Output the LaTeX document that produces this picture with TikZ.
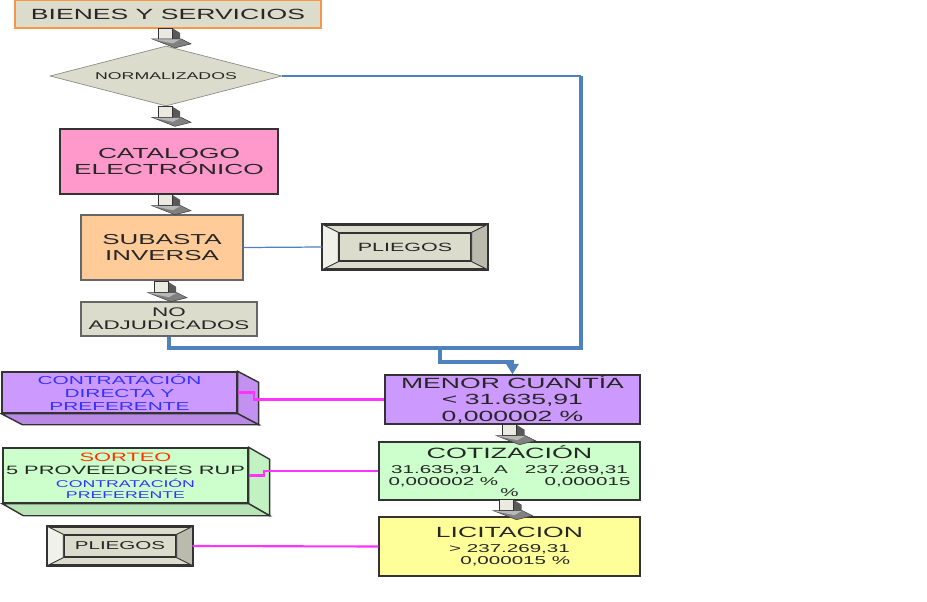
\documentclass[tikz,border=0pt]{standalone}
\usepackage{fontspec}
\setmainfont{Liberation Sans}[FakeStretch=1.8]
\usepackage{xcolor}
\usepackage{tikz}
\usetikzlibrary{shapes.geometric}
\usetikzlibrary{arrows.meta}
\usetikzlibrary{calc}

\definecolor{gris}{HTML}{DCDCCC}
\definecolor{naranja}{HTML}{F79646}
\definecolor{rosa}{HTML}{FF99CC}
\definecolor{salmon}{HTML}{FFCC99}
\definecolor{lila}{HTML}{CC99FF}
\definecolor{verde}{HTML}{CCFFCC}
\definecolor{amarillo}{HTML}{FFFF99}
\definecolor{azul}{HTML}{4F81BD}
\definecolor{fucsia}{HTML}{FF33FF}
\definecolor{azultexto}{HTML}{3333FF}
\definecolor{rojotexto}{HTML}{FF3300}

\tikzset{
	flecha/.pic={
		\fill[black!65] (14,0) -- (22,5) -- (22,11) -- (14,11) -- cycle;
		\filldraw[fill=gris!60!white, draw=black!80, line width=0.4pt] (0,0) rectangle (14,11);
		\filldraw[fill=black!50, draw=black!75, line width=0.3pt] (-6,11) -- (23,11) -- (33,16) -- (17,20) -- cycle;
		\fill[black!28] (-5,11.5) -- (22,11.5) -- (15,15.5) -- cycle;
	}
}

\begin{document}
\begin{tikzpicture}[x=0.02cm, y=-0.02cm,
	caja/.style={draw=black!80, line width=0.8pt, inner sep=0pt, align=center, text=black!85},
	azulgrueso/.style={draw=azul, line width=2pt},
	fucsialinea/.style={draw=fucsia, line width=1.2pt}]

	\useasboundingbox (0,0) rectangle (927,602);

	% columna principal
	\node [caja, draw=naranja, line width=1pt, fill=gris, minimum width=6.12cm, minimum height=0.56cm, font=\fontsize{8.4}{9}\selectfont] (bienes) at (168,14) {BIENES Y SERVICIOS};

	\node [diamond, aspect=3.9, draw=black!45, fill=gris, inner sep=0pt, minimum width=4.64cm, minimum height=1.2cm, text=black!85, font=\fontsize{5.6}{6}\selectfont] (normal) at (166,76) {NORMALIZADOS};

	\node [caja, fill=rosa, minimum width=4.36cm, minimum height=1.3cm, font=\fontsize{8.3}{9.6}\selectfont] (catalogo) at (169,161.5) {CATALOGO\\ELECTRÓNICO};

	\node [caja, fill=salmon, draw=black!60, minimum width=3.24cm, minimum height=1.3cm, font=\fontsize{8.2}{9}\selectfont] (subasta) at (162,247.5) {SUBASTA\\INVERSA};

	\node [caja, fill=gris, draw=black!60, minimum width=3.52cm, minimum height=0.68cm, font=\fontsize{7.1}{7.4}\selectfont] (noadj) at (169,319) {NO\\ADJUDICADOS};

	\pic at ($(bienes.south)+(-10,-1)$) {flecha};
	\pic at ($(normal.south)+(-8,0)$) {flecha};
	\pic at ($(catalogo.south)+(-11,0)$) {flecha};
	\pic at ($(subasta.south)+(-8,1)$) {flecha};

	% pliegos de la subasta
	\node [caja, fill=gris, minimum width=3.28cm, minimum height=0.88cm] (pliegos) at (405,247) {};
	\node [caja, fill=gris, minimum width=2.64cm, minimum height=0.56cm, font=\fontsize{6.8}{7}\selectfont] (pliegosin) at (pliegos.center) {PLIEGOS};
	\filldraw [fill=gris!40!white, draw=black!80, line width=0.5pt] (pliegos.north west) -- (pliegosin.north west) -- (pliegosin.south west) -- (pliegos.south west) -- cycle;
	\filldraw [fill=gris!85!black, draw=black!80, line width=0.5pt] (pliegos.north east) -- (pliegosin.north east) -- (pliegosin.south east) -- (pliegos.south east) -- cycle;
	\draw [black!80, line width=1pt] (pliegos.north west) rectangle (pliegos.south east);

	\draw [azul, line width=0.7pt] (subasta.east) -- (pliegos.west);

	% montos
	\node [caja, fill=lila, minimum width=5.1cm, minimum height=0.98cm, font=\fontsize{8.4}{9.6}\selectfont] (menor) at (512.5,399.5) {MENOR CUANTÍA\\< 31.635,91\\0,000002 \%};

	\node [caja, fill=verde, minimum width=5.22cm, minimum height=1.16cm, font=\fontsize{6.5}{6.8}\selectfont] (cotiz) at (509.5,471) {{\fontsize{8.5}{9}\selectfont COTIZACIÓN}\\[2pt]31.635,91\ \ A\ \ \ 237.269,31\\\makebox[4.84cm]{0,000002 \%\hfill 0,000015}\\[-0.6pt]\%};

	\node [caja, fill=amarillo, minimum width=5.22cm, minimum height=1.18cm, font=\fontsize{6.5}{6.8}\selectfont] (licit) at (509.5,546.5) {{\fontsize{8.4}{9}\selectfont LICITACION}\\[1.4pt]> 237.269,31\\\ \ 0,000015 \%};

	\pic at ($(menor.south)+(-10,0)$) {flecha};
	\pic at ($(cotiz.south)+(-10,-1)$) {flecha};

	% conectores azules
	\coordinate (union) at (581,348);
	\coordinate (bajada) at (440,348);
	\draw [azul, line width=0.9pt] (normal.east) -- (normal.east -| union);
	\draw [azulgrueso] (normal.east -| union) -- (union) -- (noadj.south |- union) -- (noadj.south);
	\draw [azulgrueso, -{Triangle[width=7pt,length=6pt]}] (bajada) -- ++(0,14) -| (menor.north);

	% cajas de la izquierda
	\node [caja, fill=lila, minimum width=4.7cm, minimum height=0.82cm, text=azultexto, font=\fontsize{6.6}{7.4}\selectfont] (contrat) at (119.5,392.5) {CONTRATACIÓN\\DIRECTA Y\\PREFERENTE};
	\filldraw [fill=lila!95!black, draw=black!80, line width=0.8pt] (contrat.north east) -- ($(contrat.north east)+(21,11)$) -- ($(contrat.south east)+(21,11)$) -- (contrat.south east) -- cycle;
	\filldraw [fill=lila!90!black, draw=black!80, line width=0.8pt] (contrat.south west) -- (contrat.south east) -- ($(contrat.south east)+(21,11)$) -- ($(contrat.south west)+(21,11)$) -- cycle;

	\node [caja, fill=verde, minimum width=4.9cm, minimum height=1.1cm, font=\fontsize{6.9}{7.4}\selectfont] (sorteo) at (125.5,475.5) {\textcolor{rojotexto}{SORTEO}\\5 PROVEEDORES RUP\\{\fontsize{5.6}{6}\selectfont\color{azultexto}CONTRATACIÓN}\\[-1.2pt]{\fontsize{5.6}{6}\selectfont\color{azultexto}PREFERENTE}};
	\filldraw [fill=verde!95!black, draw=black!80, line width=0.8pt] (sorteo.north east) -- ($(sorteo.north east)+(21,12)$) -- ($(sorteo.south east)+(21,12)$) -- (sorteo.south east) -- cycle;
	\filldraw [fill=verde!90!black, draw=black!80, line width=0.8pt] (sorteo.south west) -- (sorteo.south east) -- ($(sorteo.south east)+(21,12)$) -- ($(sorteo.south west)+(21,12)$) -- cycle;

	\node [caja, fill=gris, minimum width=2.88cm, minimum height=0.76cm] (pliegosb) at (120,546) {};
	\node [caja, fill=gris, minimum width=2.24cm, minimum height=0.44cm, font=\fontsize{6.5}{7}\selectfont] (pliegosbin) at (pliegosb.center) {PLIEGOS};
	\filldraw [fill=gris!40!white, draw=black!80, line width=0.5pt] (pliegosb.north west) -- (pliegosbin.north west) -- (pliegosbin.south west) -- (pliegosb.south west) -- cycle;
	\filldraw [fill=gris!85!black, draw=black!80, line width=0.5pt] (pliegosb.north east) -- (pliegosbin.north east) -- (pliegosbin.south east) -- (pliegosb.south east) -- cycle;
	\draw [black!80, line width=1pt] (pliegosb.north west) rectangle (pliegosb.south east);

	% conectores fucsia
	\draw [fucsialinea] (contrat.east) -- ++(16,0) |- (menor.west);
	\draw [fucsialinea] (sorteo.east) -- ++(15,0) |- (cotiz.west);
	\draw [fucsialinea] (pliegosb.east) -- (licit.west);

\end{tikzpicture}
\end{document}
